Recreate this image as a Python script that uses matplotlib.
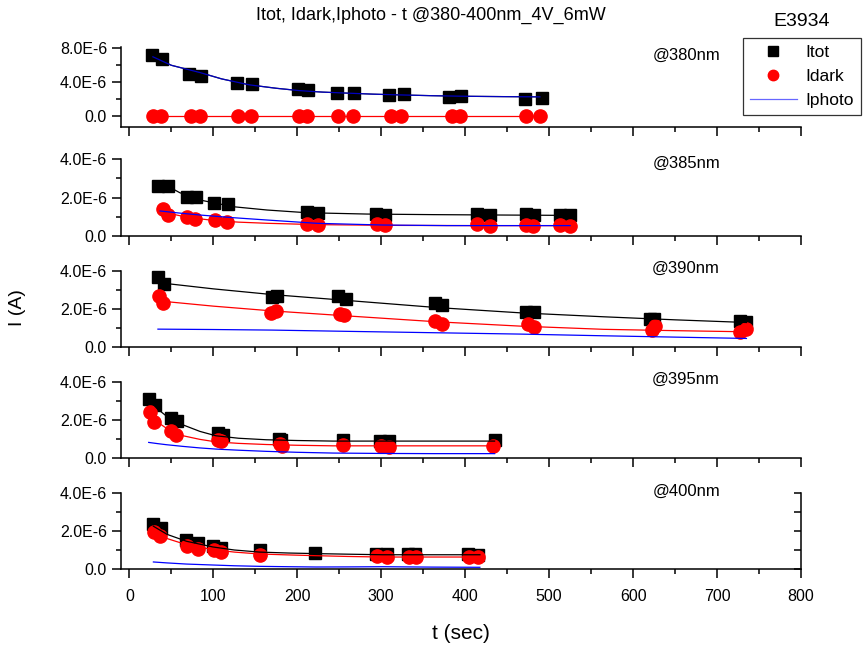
import matplotlib
matplotlib.use("Agg")
import matplotlib.pyplot as plt
from matplotlib.ticker import MultipleLocator, FuncFormatter
from matplotlib.lines import Line2D

plt.rcParams['font.family'] = ['Liberation Sans', 'DejaVu Sans']

U = 1e-6  # values below are in units of 1E-6 A

wavelengths = ["@380nm", "@385nm", "@390nm", "@395nm", "@400nm"]

# ---- 380 nm ----
t_tot_380 = [27.4, 38.5, 71.4, 85, 127.8, 145.7, 201, 213, 247.6, 267.9, 309.5, 327, 381, 395, 471.4, 491]
i_tot_380 = [7.18, 6.70, 4.94, 4.70, 3.92, 3.72, 3.14, 3.02, 2.75, 2.67, 2.47, 2.59, 2.27, 2.35, 2.04, 2.12]
t_dark_380 = [28.6, 37.7, 73.5, 84.2, 129, 144.5, 202.4, 212, 249, 266, 311.5, 324, 383.8, 393.7, 473, 489]
i_dark_380 = [0.0] * 16
fit_t_380 = [28, 50, 84, 110, 143, 175, 202, 230, 262, 290, 322, 360, 401, 445, 489]
fit_tot_380 = [6.95, 5.95, 5.10, 4.35, 3.65, 3.25, 2.98, 2.80, 2.67, 2.56, 2.47, 2.38, 2.31, 2.27, 2.24]
fit_dark_380 = [0.0] * 15
fit_photo_380 = fit_tot_380

# ---- 385 nm ----
t_tot_385 = [34.6, 46.5, 69, 79, 101, 117, 211, 225, 293.7, 304.4, 413.6, 429.4, 472.3, 481.8, 512.7, 524.6]
i_tot_385 = [2.60, 2.60, 2.04, 2.01, 1.70, 1.65, 1.23, 1.18, 1.14, 1.11, 1.14, 1.11, 1.13, 1.11, 1.11, 1.07]
t_dark_385 = [39.7, 46.5, 69, 78.2, 102, 116, 212, 225, 294.5, 304.4, 413.6, 429.4, 472.3, 481, 512.7, 524.6]
i_dark_385 = [1.40, 1.09, 0.97, 0.87, 0.83, 0.71, 0.62, 0.56, 0.62, 0.56, 0.62, 0.52, 0.59, 0.52, 0.57, 0.52]
fit_t_tot_385 = [34.6, 46.5, 60, 84, 124, 164, 211, 283, 362, 440, 525]
fit_tot_385 = [2.60, 2.57, 2.25, 1.87, 1.52, 1.35, 1.21, 1.14, 1.11, 1.09, 1.07]
fit_t_dark_385 = [39.7, 50, 69, 102, 130, 164, 223, 322, 420, 525]
fit_dark_385 = [1.35, 1.15, 0.97, 0.80, 0.72, 0.66, 0.59, 0.55, 0.54, 0.54]
fit_t_photo_385 = [36.5, 60, 84, 124, 164, 223, 302, 378, 450, 525]
fit_photo_385 = [1.30, 1.19, 1.09, 0.95, 0.83, 0.66, 0.57, 0.54, 0.54, 0.54]

# ---- 390 nm ----
t_tot_390 = [34, 41, 170, 176, 249, 257.5, 364, 372.5, 472.5, 482.5, 620, 625, 727.5, 735]
i_tot_390 = [3.69, 3.34, 2.64, 2.69, 2.67, 2.55, 2.29, 2.20, 1.85, 1.85, 1.50, 1.45, 1.36, 1.29]
t_dark_390 = [35, 40, 169, 175, 251, 256, 364, 372.5, 475, 482.5, 622.5, 626, 727.5, 734]
i_dark_390 = [2.69, 2.29, 1.80, 1.90, 1.76, 1.71, 1.38, 1.21, 1.21, 1.03, 0.89, 1.10, 0.80, 0.93]
fit_t_390 = [34, 100, 170, 265, 365, 465, 565, 650, 735]
fit_tot_390 = [3.39, 3.06, 2.76, 2.43, 2.08, 1.80, 1.59, 1.43, 1.29]
fit_dark_390 = [2.43, 2.15, 1.90, 1.62, 1.33, 1.10, 0.93, 0.86, 0.80]
fit_photo_390 = [0.94, 0.92, 0.89, 0.82, 0.75, 0.68, 0.59, 0.52, 0.45]

# ---- 395 nm ----
t_tot_395 = [23, 30, 49, 57, 106, 111, 178, 181, 254, 298, 309, 435]
i_tot_395 = [3.13, 2.78, 2.09, 1.95, 1.30, 1.22, 1.01, 0.96, 0.96, 0.92, 0.87, 0.96]
t_dark_395 = [24, 29, 50, 56, 106, 109, 179, 182, 254.5, 300, 309, 432.6]
i_dark_395 = [2.40, 1.88, 1.44, 1.22, 0.96, 0.87, 0.75, 0.64, 0.66, 0.61, 0.57, 0.61]
fit_t_395 = [23, 33, 44, 64, 84, 103, 130, 163, 200, 242.5, 300, 362, 435]
fit_tot_395 = [3.08, 2.60, 2.21, 1.74, 1.40, 1.17, 1.04, 0.96, 0.92, 0.89, 0.89, 0.89, 0.89]
fit_dark_395 = [2.35, 1.90, 1.57, 1.17, 0.98, 0.85, 0.77, 0.71, 0.67, 0.64, 0.64, 0.64, 0.64]
fit_photo_395 = [0.82, 0.76, 0.70, 0.61, 0.53, 0.47, 0.41, 0.35, 0.30, 0.26, 0.24, 0.23, 0.23]

# ---- 400 nm ----
t_tot_400 = [28.6, 37.8, 68, 81.5, 99.4, 109, 155, 220.8, 294, 307, 332, 340, 403.6, 415.5]
i_tot_400 = [2.39, 2.16, 1.54, 1.37, 1.23, 1.11, 0.98, 0.84, 0.81, 0.81, 0.77, 0.77, 0.77, 0.75]
t_dark_400 = [29.8, 36.6, 69.2, 81.5, 100.2, 109.3, 155.8, 294.8, 306.7, 333, 341, 404.8, 415.5]
i_dark_400 = [1.93, 1.72, 1.23, 1.05, 1.02, 0.88, 0.74, 0.67, 0.63, 0.63, 0.63, 0.63, 0.63]
fit_t_400 = [28.6, 45, 68, 99.4, 125, 155, 190, 222.7, 260, 302, 360, 417.5]
fit_tot_400 = [2.25, 1.82, 1.46, 1.16, 1.00, 0.89, 0.84, 0.81, 0.78, 0.75, 0.75, 0.75]
fit_dark_400 = [1.98, 1.60, 1.28, 1.02, 0.89, 0.79, 0.74, 0.70, 0.66, 0.63, 0.63, 0.63]
fit_photo_400 = [0.37, 0.32, 0.26, 0.21, 0.17, 0.14, 0.12, 0.105, 0.11, 0.12, 0.10, 0.09]

panels = [
    dict(t_tot=t_tot_380, i_tot=i_tot_380, t_dark=t_dark_380, i_dark=i_dark_380,
         ft_tot=fit_t_380, f_tot=fit_tot_380, ft_dark=fit_t_380, f_dark=fit_dark_380,
         ft_photo=fit_t_380, f_photo=fit_photo_380),
    dict(t_tot=t_tot_385, i_tot=i_tot_385, t_dark=t_dark_385, i_dark=i_dark_385,
         ft_tot=fit_t_tot_385, f_tot=fit_tot_385, ft_dark=fit_t_dark_385, f_dark=fit_dark_385,
         ft_photo=fit_t_photo_385, f_photo=fit_photo_385),
    dict(t_tot=t_tot_390, i_tot=i_tot_390, t_dark=t_dark_390, i_dark=i_dark_390,
         ft_tot=fit_t_390, f_tot=fit_tot_390, ft_dark=fit_t_390, f_dark=fit_dark_390,
         ft_photo=fit_t_390, f_photo=fit_photo_390),
    dict(t_tot=t_tot_395, i_tot=i_tot_395, t_dark=t_dark_395, i_dark=i_dark_395,
         ft_tot=fit_t_395, f_tot=fit_tot_395, ft_dark=fit_t_395, f_dark=fit_dark_395,
         ft_photo=fit_t_395, f_photo=fit_photo_395),
    dict(t_tot=t_tot_400, i_tot=i_tot_400, t_dark=t_dark_400, i_dark=i_dark_400,
         ft_tot=fit_t_400, f_tot=fit_tot_400, ft_dark=fit_t_400, f_dark=fit_dark_400,
         ft_photo=fit_t_400, f_photo=fit_photo_400),
]

W, H = 868, 652
fig = plt.figure(figsize=(W / 100, H / 100), dpi=100)

# panel frames in pixels: (top, bottom)
frames = [(47, 127), (159, 236), (271, 347), (382, 458), (493, 569)]
left_px, right_px = 121, 801
ylims = [(-1.3, 8.1), (0, 4), (0, 4), (0, 4), (0, 4)]
label_y_px = [55, 163, 268, 379, 491]


def sci_fmt(v, pos):
    if abs(v) < 1e-12:
        return "0.0"
    return f"{v / U:.1f}E-6"


for k, (p, (top, bot)) in enumerate(zip(panels, frames)):
    ax = fig.add_axes([left_px / W, 1 - bot / H, (right_px - left_px) / W, (bot - top) / H])
    ax.set_xlim(-10, 800)
    ax.set_ylim(ylims[k][0] * U, ylims[k][1] * U)
    ax.plot(p['t_tot'], [v * U for v in p['i_tot']], ls='none', marker='s', ms=8.5,
            color='black', zorder=2, clip_on=False)
    ax.plot(p['t_dark'], [v * U for v in p['i_dark']], ls='none', marker='o', ms=9.5,
            color='red', mec='red', zorder=2, clip_on=False)
    ax.plot(p['ft_tot'], [v * U for v in p['f_tot']], color='black', lw=0.9, zorder=3)
    ax.plot(p['ft_dark'], [v * U for v in p['f_dark']], color='red', lw=0.9, zorder=3)
    ax.plot(p['ft_photo'], [v * U for v in p['f_photo']], color='blue', lw=0.9,
            alpha=0.75 if k == 0 else 1.0, zorder=4)

    ax.xaxis.set_major_locator(MultipleLocator(100))
    ax.xaxis.set_minor_locator(MultipleLocator(50))
    ymaj, ymin = (4 * U, 2 * U) if k == 0 else (2 * U, 1 * U)
    ax.yaxis.set_major_locator(MultipleLocator(ymaj))
    ax.yaxis.set_minor_locator(MultipleLocator(ymin))
    ax.yaxis.set_major_formatter(FuncFormatter(sci_fmt))

    for s in ['top', 'right']:
        ax.spines[s].set_visible(False)
    for s in ['left', 'bottom']:
        ax.spines[s].set_linewidth(1.1)
    ax.tick_params(which='major', direction='out', length=6.5, width=1.1, labelsize=11.5)
    ax.tick_params(which='minor', direction='out', length=3.5, width=1.1)
    ax.patch.set_alpha(0)
    if k < 4:
        ax.tick_params(axis='x', labelbottom=False)
    else:
        ax.set_xlabel("t (sec)", fontsize=15, labelpad=14)
        ax.xaxis.set_tick_params(pad=8)
        # closing right axis with inward ticks
        axr = ax.twinx()
        axr.set_ylim(ax.get_ylim())
        axr.yaxis.set_major_locator(MultipleLocator(ymaj))
        axr.yaxis.set_minor_locator(MultipleLocator(ymin))
        for s in ['top', 'left', 'bottom']:
            axr.spines[s].set_visible(False)
        axr.spines['right'].set_linewidth(1.1)
        axr.tick_params(which='major', direction='in', length=5, width=1.1, labelright=False)
        axr.tick_params(which='minor', direction='in', length=5, width=1.1)
        axr.patch.set_alpha(0)

    fig.text(720 / W, 1 - label_y_px[k] / H, wavelengths[k], ha='right', va='center',
             fontsize=12)

fig.text(18 / W, 1 - 308 / H, "I (A)", rotation=90, ha='center', va='center', fontsize=14)
fig.text(431 / W, 1 - 15 / H, "Itot, Idark,Iphoto - t @380-400nm_4V_6mW", ha='center',
         va='center', fontsize=13)
fig.text(802 / W, 1 - 22 / H, "E3934", ha='center', va='center', fontsize=14)

handles = [
    Line2D([], [], ls='none', marker='s', ms=6.5, color='black'),
    Line2D([], [], ls='none', marker='o', ms=7.5, color='red'),
    Line2D([], [], color='blue', lw=0.9, alpha=0.6),
]
leg = fig.legend(handles, ["Itot", "Idark", "Iphoto"], loc='upper left',
                 bbox_to_anchor=(743 / W, 1 - 38 / H), frameon=True, fancybox=False,
                 edgecolor='black', fontsize=12.5, handlelength=2.7, handletextpad=0.5,
                 borderpad=0.4, labelspacing=0.5, borderaxespad=0)
leg.get_frame().set_linewidth(0.9)

fig.savefig("out.png", dpi=100)
